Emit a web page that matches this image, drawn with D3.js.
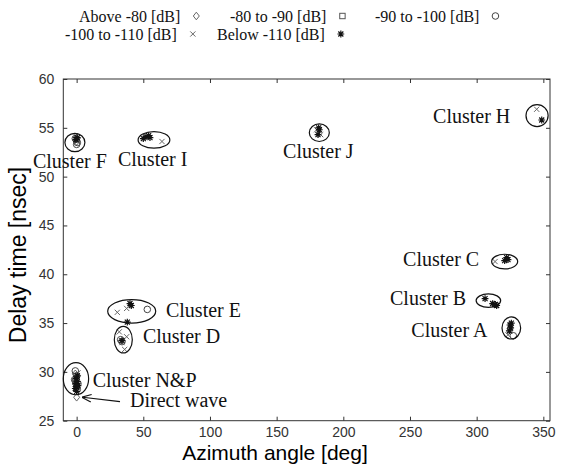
<!DOCTYPE html>
<html>
<head>
<meta charset="utf-8">
<script src="https://cdn.jsdelivr.net/npm/d3@7"></script>
<style>
  body { margin: 0; background: #fff; }
  svg { display: block; }
</style>
</head>
<body>
<svg width="561" height="467"></svg>
<script>
// points per power class: [azimuth deg, delay nsec]
const above80 = [[0, 27.4], [0, 53.6], [-1, 29.8]];
const from80to90 = [[0, 28.5], [-1, 29.0], [0, 53.8]];
const from90to100 = [
  [-1, 53.9], [0.5, 53.5], [0, 53.3],
  [-1, 30.1], [0, 29.6], [1, 28.8], [-1.5, 29.2], [0.5, 28.2],
  [53, 36.4], [33, 33.3], [34, 33.1], [327.5, 33.7]
];
const from100to110 = [
  [64, 53.6], [180, 54.8], [183, 54.3], [345, 56.9], [313.8, 41.3],
  [323.5, 33.8], [325, 34.2], [30.5, 36.1], [37.5, 36.5],
  [32, 34.1], [37.5, 33.6], [36, 32.3], [34, 33.0],
  [-1, 54.2], [1, 53.7], [-1, 29.5], [1, 29.9]
];
const below110 = [
  [-0.5, 53.8], [0.5, 54.0],
  [50, 53.9], [52, 54.1], [54, 54.2], [55, 54.0],
  [181, 54.3], [182, 54.8], [181.5, 55.0],
  [348.8, 55.8],
  [321, 41.4], [322.5, 41.7], [323.5, 41.5],
  [306.3, 37.5], [312, 37.0], [314, 36.9], [315, 36.8],
  [325, 34.8], [325.5, 34.5], [324.5, 34.2], [326, 35.0],
  [40, 37.0], [41, 36.8], [38, 35.1],
  [34, 33.2],
  [-0.5, 28.8], [0.5, 29.0], [0, 28.5], [-1, 28.3], [1, 28.6], [0, 28.0], [-0.5, 29.3], [0.5, 29.6]
];

// cluster ellipses: name, centre az, centre delay, radius az, radius delay
const clusters = [
  ['F', -1.3, 53.5, 7.5, 0.94],
  ['I', 58, 53.76, 11.9, 0.85],
  ['J', 182, 54.5, 7.5, 0.9],
  ['H', 345.3, 56.25, 8.3, 1.13],
  ['C', 321, 41.3, 9.75, 0.75],
  ['B', 308.8, 37.3, 9.2, 0.69],
  ['A', 326, 34.5, 7, 1.13],
  ['E', 41.3, 36.2, 18, 1.2],
  ['D', 35, 33.3, 6.75, 1.36],
  ['N&P', -0.5, 29.3, 9.5, 1.64]
];

// label text, left az, baseline delay
const labels = [
  ['Cluster F', -32.8, 50.9],
  ['Cluster I', 31, 51.1],
  ['Cluster J', 154.8, 51.9],
  ['Cluster H', 267.3, 55.5],
  ['Cluster C', 244.8, 40.85],
  ['Cluster B', 235, 36.85],
  ['Cluster A', 251, 33.6],
  ['Cluster E', 67, 35.6],
  ['Cluster D', 49.7, 32.95],
  ['Cluster N&P', 12, 28.5],
  ['Direct wave', 40, 26.45]
];

const xTicks = [0, 50, 100, 150, 200, 250, 300, 350];
const yTicks = [25, 30, 35, 40, 45, 50, 55, 60];

const legendRows = [
  [['Above -80 [dB]', 'diamond'], ['-80 to -90 [dB]', 'square'], ['-90 to -100 [dB]', 'circle']],
  [['-100 to -110 [dB]', 'cross'], ['Below -110 [dB]', 'star']]
];

const svg = d3.select('svg');
const mLeft = 63.3, mRight = 550, mTop = 79, mBottom = 420.7;

const x = d3.scaleLinear().domain([-10, 355]).range([mLeft, mRight]);
const y = d3.scaleLinear().domain([25, 60]).range([mBottom, mTop]);

const serif = '"Liberation Serif", "Times New Roman", serif';
const sans = '"Liberation Sans", Arial, sans-serif';

// marker shapes
function marker(g, type, cx, cy) {
  if (type === 'diamond') {
    g.append('path').attr('d', `M${cx},${cy - 3.8}L${cx + 3},${cy}L${cx},${cy + 3.8}L${cx - 3},${cy}Z`)
      .attr('fill', 'none').attr('stroke', '#666').attr('stroke-width', 1);
  } else if (type === 'square') {
    g.append('rect').attr('x', cx - 2.7).attr('y', cy - 2.7).attr('width', 5.4).attr('height', 5.4)
      .attr('fill', 'none').attr('stroke', '#555').attr('stroke-width', 1);
  } else if (type === 'circle') {
    g.append('circle').attr('cx', cx).attr('cy', cy).attr('r', 3.3)
      .attr('fill', 'none').attr('stroke', '#444').attr('stroke-width', 1);
  } else if (type === 'cross') {
    const s = 2.6;
    g.append('path').attr('d', `M${cx - s},${cy - s}L${cx + s},${cy + s}M${cx - s},${cy + s}L${cx + s},${cy - s}`)
      .attr('stroke', '#666').attr('stroke-width', 1);
  } else {
    const s = 3.4, d = 2.5;
    g.append('path')
      .attr('d', `M${cx - s},${cy}L${cx + s},${cy}M${cx},${cy - s}L${cx},${cy + s}M${cx - d},${cy - d}L${cx + d},${cy + d}M${cx - d},${cy + d}L${cx + d},${cy - d}`)
      .attr('stroke', '#111').attr('stroke-width', 1.2);
  }
}

// frame
svg.append('rect')
  .attr('x', mLeft).attr('y', mTop)
  .attr('width', mRight - mLeft).attr('height', mBottom - mTop)
  .attr('fill', 'none').attr('stroke', '#333').attr('stroke-width', 1);

// axes with inward ticks
const xAxis = svg.append('g').attr('transform', `translate(0,${mBottom})`)
  .call(d3.axisBottom(x).tickValues(xTicks).tickSizeInner(-4).tickSizeOuter(0).tickPadding(6));
const xTop = svg.append('g').attr('transform', `translate(0,${mTop})`)
  .call(d3.axisTop(x).tickValues(xTicks).tickSizeInner(-4).tickSizeOuter(0).tickFormat(''));
const yAxis = svg.append('g').attr('transform', `translate(${mLeft},0)`)
  .call(d3.axisLeft(y).tickValues(yTicks).tickSizeInner(-4).tickSizeOuter(0).tickPadding(9));
const yRight = svg.append('g').attr('transform', `translate(${mRight},0)`)
  .call(d3.axisRight(y).tickValues(yTicks).tickSizeInner(-4).tickSizeOuter(0).tickFormat(''));

[xAxis, xTop, yAxis, yRight].forEach(a => {
  a.select('.domain').remove();
  a.selectAll('line').attr('stroke', '#333');
  a.selectAll('text').attr('font-family', sans).attr('font-size', 14).attr('fill', '#333');
});

// axis titles
svg.append('text')
  .attr('x', 275).attr('y', 460)
  .attr('text-anchor', 'middle')
  .attr('font-family', sans).attr('font-size', 21)
  .text('Azimuth angle [deg]');

svg.append('text')
  .attr('transform', `translate(26,255) rotate(-90)`)
  .attr('text-anchor', 'middle')
  .attr('font-family', sans).attr('font-size', 23)
  .text('Delay time [nsec]');

// markers
const pts = svg.append('g');
[[above80, 'diamond'], [from80to90, 'square'], [from90to100, 'circle'], [from100to110, 'cross'], [below110, 'star']]
  .forEach(([data, type]) => {
    data.forEach(d => marker(pts, type, x(d[0]), y(d[1])));
  });

// ellipses
svg.append('g').selectAll('ellipse')
  .data(clusters)
  .join('ellipse')
  .attr('cx', d => x(d[1]))
  .attr('cy', d => y(d[2]))
  .attr('rx', d => x(d[1] + d[3]) - x(d[1]))
  .attr('ry', d => y(d[2]) - y(d[2] + d[4]))
  .attr('fill', 'none')
  .attr('stroke', '#111')
  .attr('stroke-width', 1.2);

// cluster labels
svg.append('g').selectAll('text')
  .data(labels)
  .join('text')
  .attr('x', d => x(d[1]))
  .attr('y', d => y(d[2]))
  .attr('font-family', serif)
  .attr('font-size', 20)
  .attr('fill', '#111')
  .text(d => d[0]);

// arrow to the direct wave
svg.append('defs').append('marker')
  .attr('id', 'arrow').attr('viewBox', '0 0 10 10')
  .attr('refX', 9).attr('refY', 5)
  .attr('markerWidth', 8).attr('markerHeight', 8)
  .attr('orient', 'auto')
  .append('path').attr('d', 'M0,1L10,5L0,9').attr('fill', 'none').attr('stroke', '#111').attr('stroke-width', 1.2);

svg.append('line')
  .attr('x1', x(32.5)).attr('y1', y(26.95))
  .attr('x2', x(4.5)).attr('y2', y(27.4))
  .attr('stroke', '#111').attr('stroke-width', 1.2)
  .attr('marker-end', 'url(#arrow)');

// legend
const legendX = [[79, 230, 375], [65, 217]];
const legendY = [22, 40];
const lg = svg.append('g');
legendRows.forEach((row, r) => {
  row.forEach(([txt, type], c) => {
    const t = lg.append('text')
      .attr('x', legendX[r][c]).attr('y', legendY[r])
      .attr('font-family', serif).attr('font-size', 16)
      .attr('fill', '#111')
      .text(txt);
    const w = t.node().getComputedTextLength();
    marker(lg, type, legendX[r][c] + w + 16, legendY[r] - 6);
  });
});
</script>
</body>
</html>
